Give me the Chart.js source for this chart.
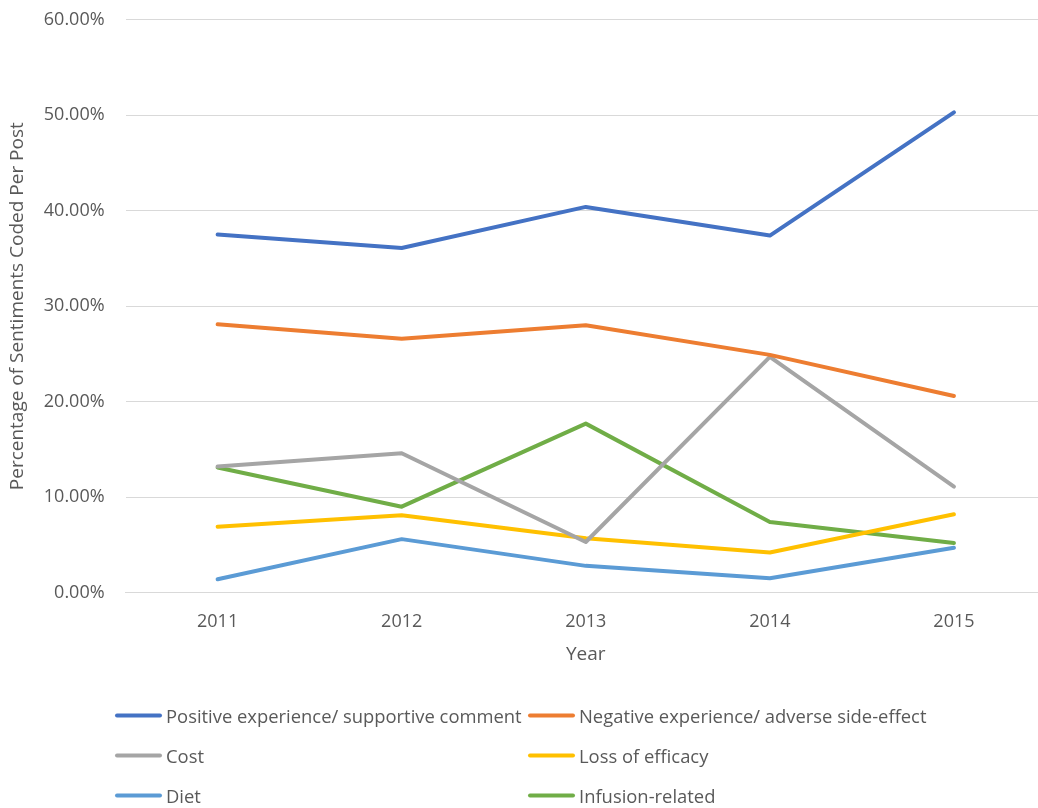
<!DOCTYPE html>
<html lang="en">
<head>
  <meta charset="UTF-8">
  <title>Sentiments per post by year</title>
  <script src="https://cdn.jsdelivr.net/npm/chart.js"></script>
  <style>
    html, body { margin: 0; padding: 0; background: #fff; overflow: hidden; }
    #wrap { position: relative; width: 1038px; height: 808px; overflow: hidden; }
    #box { position: absolute; left: 0; top: -12px; width: 1046px; height: 682px; }
    #legend { position: absolute; left: 0; top: 0; width: 1038px; height: 808px; pointer-events: none;
      font-family: "Open Sans", sans-serif; font-size: 18.4px; color: #595959; }
    .item { position: absolute; display: flex; align-items: center; transform: translateY(-50%); white-space: nowrap; }
    .swatch { width: 47px; height: 4px; border-radius: 2px; margin-right: 4px; }
  </style>
</head>
<body>
<div id="wrap">
  <div id="box"><canvas id="myChart"></canvas></div>
  <div id="legend"></div>
</div>
<script>
  const years = ['2011', '2012', '2013', '2014', '2015'];
  const seriesNames = [
    'Positive experience/ supportive comment',
    'Negative experience/ adverse side-effect',
    'Cost',
    'Loss of efficacy',
    'Diet',
    'Infusion-related'
  ];
  const positive = [37.5, 36.1, 40.4, 37.4, 50.3];
  const negative = [28.1, 26.6, 28.0, 24.9, 20.6];
  const cost = [13.2, 14.6, 5.3, 24.7, 11.1];
  const efficacy = [6.9, 8.1, 5.7, 4.2, 8.2];
  const diet = [1.4, 5.6, 2.8, 1.5, 4.7];
  const infusion = [13.1, 9.0, 17.7, 7.4, 5.2];
  const colors = ['#4472c4', '#ed7d31', '#a5a5a5', '#ffc000', '#5b9bd5', '#70ad47'];

  const values = [positive, negative, cost, efficacy, diet, infusion];

  const datasets = seriesNames.map((name, i) => ({
    label: name,
    data: values[i],
    borderColor: colors[i],
    backgroundColor: colors[i],
    borderWidth: 4,
    borderCapStyle: 'round',
    borderJoinStyle: 'round',
    pointRadius: 0,
    tension: 0,
    order: i
  }));

  const fontFam = '"Open Sans", sans-serif';
  const ctx = document.getElementById('myChart').getContext('2d');
  new Chart(ctx, {
    type: 'line',
    data: { labels: years, datasets: datasets },
    options: {
      responsive: true,
      maintainAspectRatio: false,
      animation: false,
      layout: { padding: { top: 6, right: 0, left: 6, bottom: 0 } },
      plugins: {
        legend: { display: false },
        tooltip: { enabled: false }
      },
      scales: {
        x: {
          offset: true,
          grid: { display: false, drawTicks: false },
          border: { display: true, color: '#d9d9d9', width: 1 },
          ticks: { color: '#595959', font: { family: fontFam, size: 18 }, padding: 18 },
          title: { display: true, text: 'Year', color: '#595959', font: { family: fontFam, size: 19 }, padding: { top: -7 } }
        },
        y: {
          min: 0,
          max: 60,
          grid: { color: '#d9d9d9', lineWidth: 1, drawTicks: false },
          border: { display: false },
          ticks: {
            stepSize: 10,
            color: '#595959',
            font: { family: fontFam, size: 18 },
            padding: 21,
            callback: v => v.toFixed(2) + '%'
          },
          title: { display: true, text: 'Percentage of Sentiments Coded Per Post', color: '#595959', font: { family: fontFam, size: 19 }, padding: { top: 0, bottom: -6 } }
        }
      }
    }
  });

  // two-column legend under the chart
  const legendPos = [[115, 715], [528, 715], [115, 755], [528, 755], [115, 795], [528, 795]];
  const legend = document.getElementById('legend');
  seriesNames.forEach((name, i) => {
    const el = document.createElement('div');
    el.className = 'item';
    el.style.left = legendPos[i][0] + 'px';
    el.style.top = legendPos[i][1] + 'px';
    el.innerHTML = '<span class="swatch" style="background:' + colors[i] + '"></span>' + name;
    legend.appendChild(el);
  });
</script>
</body>
</html>
